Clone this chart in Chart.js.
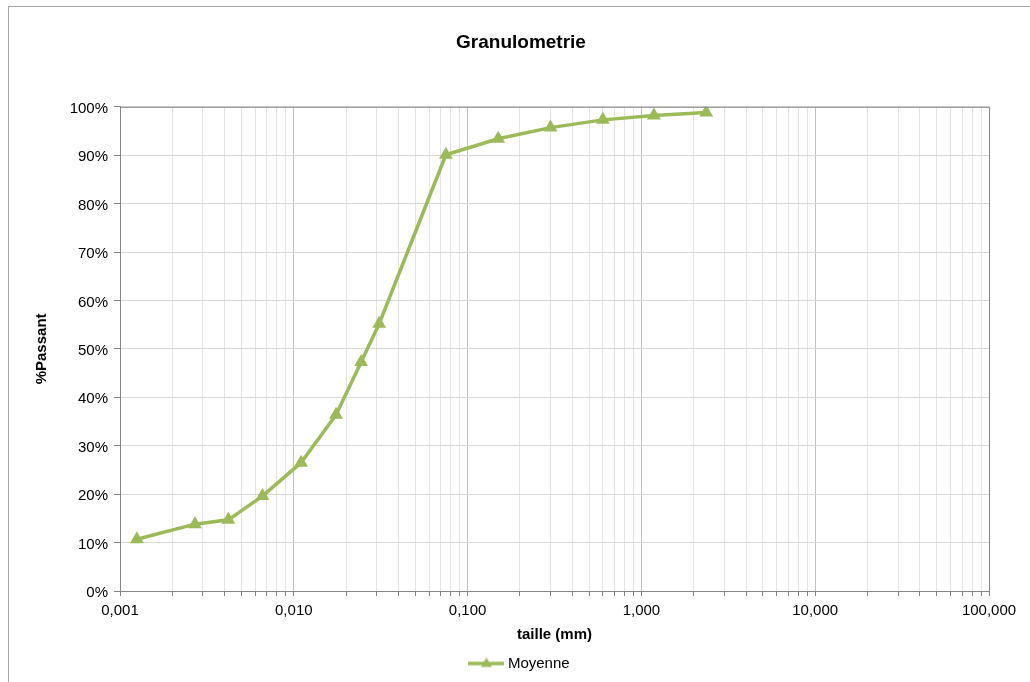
<!DOCTYPE html>
<html>
<head>
<meta charset="utf-8">
<script src="https://cdn.jsdelivr.net/npm/chart.js@4"></script>
<style>
  body { margin: 0; background: #fff; }
  #wrap { position: relative; width: 1030px; height: 682px; }
  #frame { position: absolute; left: 8px; top: 6px; right: 0; bottom: 0;
           border-left: 1px solid #a6a6a6; border-top: 1px solid #a6a6a6; }
  #granulo { position: absolute; left: 0; top: 0; }
</style>
</head>
<body>
<div id="wrap">
  <div id="frame"></div>
  <canvas id="granulo" width="1030" height="682"></canvas>
</div>
<script>
// Granulometrie - passing curve
var sizes   = [0.00125, 0.0027, 0.0042, 0.0066, 0.011, 0.0175, 0.0244, 0.031, 0.075, 0.15, 0.3, 0.6, 1.18, 2.36];
var passing = [10.7, 13.8, 14.7, 19.6, 26.5, 36.4, 47.3, 55.2, 90.1, 93.4, 95.7, 97.3, 98.2, 98.8];
var decades = [0.001, 0.01, 0.1, 1, 10, 100];
var yTicks  = [0, 10, 20, 30, 40, 50, 60, 70, 80, 90, 100];

var green = '#9bbb59';
var axisGrey = '#868686';
var font = "'Liberation Sans', Arial, sans-serif";

var points = sizes.map(function(s, i) { return {x: s, y: passing[i]}; });

function isMajor(v) {
    var l = Math.log10(v);
    return Math.abs(l - Math.round(l)) < 1e-9;
}

// legend symbol: line with a triangle in the middle
function legendSymbol() {
    var c = document.createElement('canvas');
    c.width = 36; c.height = 14;
    var g = c.getContext('2d');
    g.strokeStyle = green; g.lineWidth = 3.5;
    g.beginPath(); g.moveTo(0, 7); g.lineTo(36, 7); g.stroke();
    g.fillStyle = green;
    g.beginPath(); g.moveTo(18, 1); g.lineTo(23.5, 10.5); g.lineTo(12.5, 10.5); g.closePath(); g.fill();
    return c;
}

var plotFrame = {
    id: 'plotFrame',
    afterDraw: function(chart) {
        var a = chart.chartArea, ctx = chart.ctx;
        ctx.save();
        ctx.strokeStyle = axisGrey; ctx.lineWidth = 1;
        ctx.beginPath();
        ctx.moveTo(a.left, a.top + 0.5); ctx.lineTo(a.right + 0.5, a.top + 0.5);
        ctx.lineTo(a.right + 0.5, a.bottom);
        ctx.stroke();
        ctx.restore();
    }
};

Chart.defaults.font.family = font;
Chart.defaults.color = '#000';

var ctx = document.getElementById('granulo').getContext('2d');
var granulo = new Chart(ctx, {
    type: 'scatter',
    data: {
        datasets: [{
            label: 'Moyenne',
            data: points,
            showLine: true,
            borderColor: green,
            backgroundColor: green,
            borderWidth: 3.5,
            tension: 0,
            pointStyle: 'triangle',
            pointRadius: 8,
            pointHoverRadius: 8,
            pointBorderWidth: 0
        }]
    },
    options: {
        responsive: false,
        animation: false,
        events: [],
        layout: { padding: { left: 53, right: 41, top: 0, bottom: 1 } },
        plugins: {
            title: {
                display: true,
                text: 'Granulometrie',
                color: '#000',
                font: { size: 19, weight: 'bold' },
                padding: { top: 31, bottom: 53 }
            },
            legend: {
                display: true,
                position: 'bottom',
                labels: {
                    usePointStyle: true,
                    pointStyle: legendSymbol(),
                    pointStyleWidth: 28,
                    color: '#000',
                    font: { size: 15 },
                    padding: 6
                }
            },
            tooltip: { enabled: false }
        },
        scales: {
            x: {
                type: 'logarithmic',
                min: 0.001,
                max: 100,
                afterBuildTicks: function(scale) {
                    var t = [];
                    decades.forEach(function(d, i) {
                        if (i === decades.length - 1) { t.push({value: d, major: true}); return; }
                        for (var k = 1; k < 10; k++) t.push({value: +(d * k).toPrecision(3), major: k === 1});
                    });
                    scale.ticks = t;
                },
                afterFit: function(scale) { scale.height = 59; },
                ticks: {
                    autoSkip: false,
                    maxRotation: 0,
                    padding: 6,
                    font: { size: 15 },
                    callback: function(v) {
                        return isMajor(v) ? v.toFixed(3).replace('.', ',') : '';
                    }
                },
                grid: {
                    color: function(c) {
                        return c.tick && isMajor(c.tick.value) ? '#c0c0c0' : '#e4e4e4';
                    },
                    tickColor: axisGrey,
                    tickLength: 5
                },
                border: { color: axisGrey, width: 1 },
                title: {
                    display: true,
                    text: 'taille (mm)',
                    font: { size: 15, weight: 'bold' },
                    padding: { top: 0, bottom: 6 }
                }
            },
            y: {
                min: 0,
                max: 100,
                afterBuildTicks: function(scale) {
                    scale.ticks = yTicks.map(function(v) { return {value: v}; });
                },
                afterFit: function(scale) { scale.width = 67; },
                ticks: {
                    padding: 6,
                    labelOffset: 2,
                    font: { size: 15 },
                    callback: function(v) { return v + '%'; }
                },
                grid: {
                    color: '#d9d9d9',
                    tickColor: axisGrey,
                    tickLength: 6
                },
                border: { color: axisGrey, width: 1 },
                title: {
                    display: true,
                    text: '%Passant',
                    font: { size: 15, weight: 'bold' },
                    padding: { top: -20, bottom: 0 }
                }
            }
        }
    },
    plugins: [plotFrame]
});
</script>
</body>
</html>
